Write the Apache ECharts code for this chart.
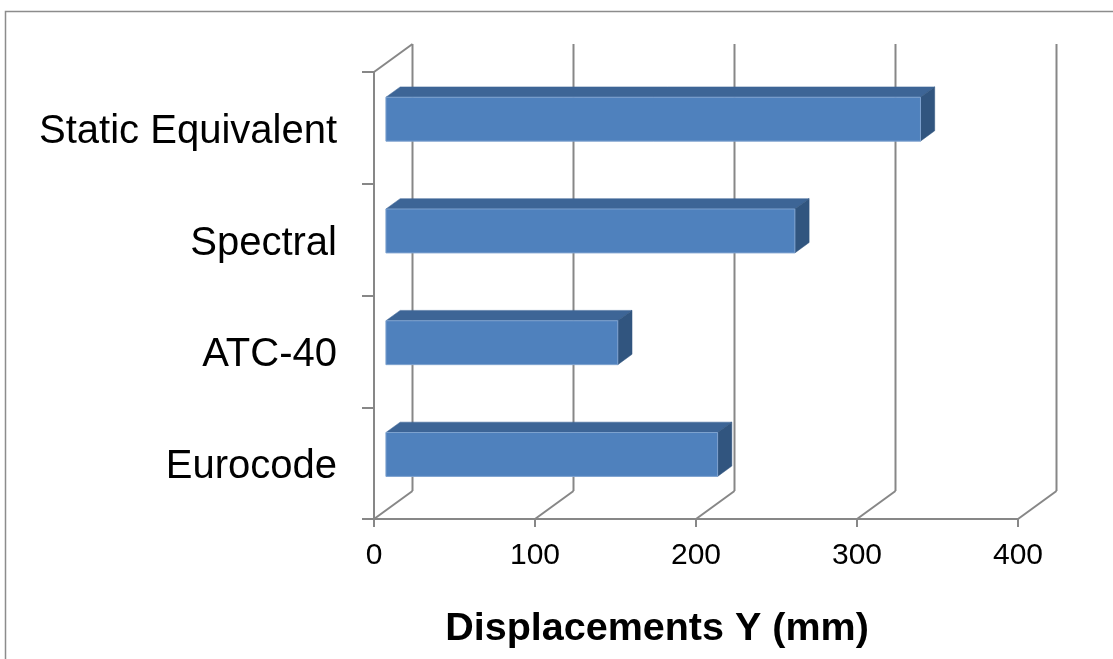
<!DOCTYPE html>
<html>
<head>
<meta charset="utf-8">
<script src="https://cdn.jsdelivr.net/npm/echarts@6/dist/echarts.min.js"></script>
<style>
html,body{margin:0;padding:0;background:#fff;}
#chart{width:1113px;height:659px;}
</style>
</head>
<body>
<div id="chart"></div>
<script>
// ---- data ----
const categories = ['Eurocode', 'ATC-40', 'Spectral', 'Static Equivalent'];
const displacements = [206, 144, 254, 332];
const xTicks = [0, 100, 200, 300, 400];
const axisTitle = 'Displacements Y (mm)';

// ---- style constants ----
const FONT = '"Liberation Sans", Arial, sans-serif';
const DEPTH = [38.5, -28];      // pixel offset of the back wall
const BAR_D1 = 0.31, BAR_D2 = 0.68, BAR_H = 0.393;
const GRID_COLOR = '#878787';

const chart = echarts.init(document.getElementById('chart'), null, {renderer: 'canvas'});

const barData = displacements.map((v, i) => [v, i]);
const wallData = xTicks.map(v => [v, 0]);

function renderWall(params, api) {
  const cs = params.coordSys;
  const v = api.value(0);
  const x = api.coord([v, 0])[0];
  const top = cs.y, bottom = cs.y + cs.height;
  const dx = DEPTH[0], dy = DEPTH[1];
  const style = {stroke: GRID_COLOR, lineWidth: 2, fill: null};
  const children = [
    {type: 'line', shape: {x1: x + dx, y1: top + dy, x2: x + dx, y2: bottom + dy}, style},
    {type: 'line', shape: {x1: x, y1: bottom, x2: x + dx, y2: bottom + dy}, style}
  ];
  if (v === xTicks[0]) {
    children.push({type: 'line', shape: {x1: x, y1: top, x2: x + dx, y2: top + dy}, style});
  }
  return {type: 'group', children};
}

function renderBar(params, api) {
  const v = api.value(0), idx = api.value(1);
  const p0 = api.coord([0, idx]);
  const p1 = api.coord([v, idx]);
  const band = api.size([0, 1])[1];
  const h = band * BAR_H;
  const dx = DEPTH[0], dy = DEPTH[1];
  const o1x = dx * BAR_D1, o1y = dy * BAR_D1;
  const o2x = dx * BAR_D2, o2y = dy * BAR_D2;
  const yt1 = p0[1] - h / 2 + o1y, yb1 = p0[1] + h / 2 + o1y;
  const yt2 = p0[1] - h / 2 + o2y, yb2 = p0[1] + h / 2 + o2y;
  const xl1 = p0[0] + o1x, xr1 = p1[0] + o1x;
  const xl2 = p0[0] + o2x, xr2 = p1[0] + o2x;
  return {
    type: 'group',
    children: [
      {type: 'polygon', shape: {points: [[xl1, yt1], [xr1, yt1], [xr2, yt2], [xl2, yt2]]},
       style: {fill: '#3D6596', stroke: '#3D6596', lineWidth: 0.5}},
      {type: 'polygon', shape: {points: [[xr1, yt1], [xr2, yt2], [xr2, yb2], [xr1, yb1]]},
       style: {fill: '#31557F', stroke: '#31557F', lineWidth: 0.5}},
      {type: 'rect', shape: {x: xl1, y: yt1, width: xr1 - xl1, height: yb1 - yt1},
       style: {fill: '#4F81BD', stroke: '#7EA2CF', lineWidth: 1}}
    ]
  };
}

const option = {
  backgroundColor: '#ffffff',
  animation: false,
  grid: {left: 374, right: 95, top: 72, bottom: 140, outerBoundsMode: 'none', containLabel: false},
  xAxis: {
    type: 'value', min: 0, max: 400, interval: 100,
    axisLine: {show: true, lineStyle: {color: GRID_COLOR, width: 2}},
    axisTick: {show: true, length: 8, lineStyle: {color: GRID_COLOR, width: 2}},
    splitLine: {show: false},
    axisLabel: {fontSize: 30, color: '#000', fontFamily: FONT, margin: 22,
      formatter: v => xTicks.includes(v) ? String(v) : ''}
  },
  yAxis: {
    type: 'category', data: categories,
    axisLine: {show: true, lineStyle: {color: GRID_COLOR, width: 2}},
    axisTick: {show: true, length: 12, lineStyle: {color: GRID_COLOR, width: 2}},
    splitLine: {show: false},
    axisLabel: {
      margin: 37,
      formatter: v => '{c|' + v + '}',
      rich: {c: {fontSize: 40, color: '#000', fontFamily: FONT, padding: [8, 0, 0, 0]}}
    }
  },
  graphic: [
    {type: 'rect', left: 3, top: 9, z: -1, silent: true,
     shape: {x: 0, y: 0, width: 1200, height: 760},
     style: {fill: null, stroke: '#8c8c8c', lineWidth: 1.5}},
    {type: 'text', x: 657, y: 629, z: 10,
     style: {text: axisTitle, fontSize: 39.5, fontWeight: 'bold', fontFamily: FONT,
       fill: '#000', textAlign: 'center', textVerticalAlign: 'middle'}}
  ],
  series: [
    {type: 'custom', name: 'walls', data: wallData, renderItem: renderWall,
     encode: {x: 0, y: 1}, z: 1, silent: true},
    {type: 'custom', name: 'Displacements', data: barData, renderItem: renderBar,
     encode: {x: 0, y: 1}, z: 3}
  ]
};
chart.setOption(option);
</script>
</body>
</html>
